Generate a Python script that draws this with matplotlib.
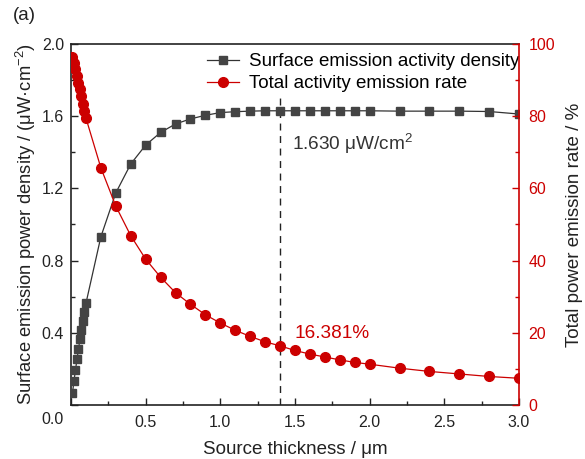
import matplotlib
matplotlib.use("Agg")
import matplotlib.pyplot as plt
from matplotlib.ticker import MultipleLocator

plt.rcParams['font.family'] = ['Liberation Sans', 'DejaVu Sans']
plt.rcParams['mathtext.fontset'] = 'custom'
plt.rcParams['mathtext.rm'] = 'Liberation Sans'
plt.rcParams['mathtext.it'] = 'Liberation Sans:italic'

# ---- data ----
thickness = [0.01, 0.02, 0.03, 0.04, 0.05, 0.06, 0.07, 0.08, 0.09, 0.10,
             0.2, 0.3, 0.4, 0.5, 0.6, 0.7, 0.8, 0.9, 1.0, 1.1, 1.2, 1.3, 1.4,
             1.5, 1.6, 1.7, 1.8, 1.9, 2.0, 2.2, 2.4, 2.6, 2.8, 3.0]
density = [0.068, 0.133, 0.194, 0.253, 0.310, 0.364, 0.415, 0.467, 0.515, 0.563,
           0.932, 1.175, 1.335, 1.440, 1.510, 1.557, 1.585, 1.605, 1.620, 1.625,
           1.628, 1.630, 1.630, 1.630, 1.630, 1.630, 1.630, 1.630, 1.630,
           1.628, 1.628, 1.628, 1.626, 1.612]
rate = [96.5, 94.8, 93.0, 91.2, 89.3, 87.4, 85.5, 83.5, 81.5, 79.5,
        65.7, 55.1, 46.9, 40.4, 35.4, 31.1, 27.9, 25.0, 22.7, 20.7,
        19.0, 17.5, 16.381, 15.1, 14.1, 13.3, 12.5, 11.8, 11.3,
        10.2, 9.3, 8.6, 7.9, 7.4]
mark_x = 1.4
mark_density_label = "1.630 μW/cm$^{2}$"
mark_rate_label = "16.381%"

black = '#333333'
mgray = '#444444'
red = '#CC0000'
txt = '#222222'

fig = plt.figure(figsize=(5.85, 4.59), dpi=100)
ax = fig.add_axes([71/585, 1-405/459, 448/585, 361/459])
ax2 = ax.twinx()

l1, = ax.plot(thickness, density, color=black, lw=0.9, marker='s', ms=5.8,
              mfc=mgray, mec=mgray, label='Surface emission activity density', zorder=3)
l2, = ax2.plot(thickness, rate, color=red, lw=0.9, marker='o', ms=7,
               mfc=red, mec=red, label='Total activity emission rate', zorder=3)

ax.plot([mark_x, mark_x], [0, 1.70], color='#222222', lw=1.0, ls=(0, (5, 4)), zorder=2)

ax.set_xlim(0, 3.0)
ax.set_ylim(0, 2.0)
ax2.set_ylim(0, 100)

ax.xaxis.set_minor_locator(MultipleLocator(0.25))
ax.yaxis.set_minor_locator(MultipleLocator(0.2))
ax2.yaxis.set_major_locator(MultipleLocator(20))
ax2.yaxis.set_minor_locator(MultipleLocator(10))

ax.set_xticks([0, 0.5, 1.0, 1.5, 2.0, 2.5, 3.0])
ax.set_xticklabels(['', '0.5', '1.0', '1.5', '2.0', '2.5', '3.0'])
ax.set_yticks([0, 0.4, 0.8, 1.2, 1.6, 2.0])
ax.set_yticklabels(['', '0.4', '0.8', '1.2', '1.6', '2.0'])

fs = 11.5
ax.tick_params(axis='both', which='major', direction='in', length=5, width=1, labelsize=fs, colors=txt)
ax.tick_params(axis='y', which='major', pad=5)
ax.tick_params(axis='x', which='major', pad=7)
ax.tick_params(axis='both', which='minor', direction='in', length=3, width=1, colors=txt)
ax.tick_params(axis='x', which='both', top=False)
ax2.tick_params(axis='y', which='major', direction='in', length=5, width=1, labelsize=fs, pad=7,
                colors=red)
ax2.tick_params(axis='y', which='minor', direction='in', length=3, width=1, colors=red)

for s in ['left', 'bottom', 'top']:
    ax.spines[s].set_color(txt)
    ax.spines[s].set_linewidth(1.2)
ax2.spines['right'].set_color(red)
ax2.spines['right'].set_linewidth(1.2)
for s in ['left', 'bottom', 'top']:
    ax2.spines[s].set_visible(False)
ax.spines['right'].set_visible(False)

lfs = 13.5
ax.set_xlabel('Source thickness / μm', fontsize=lfs, color=txt, labelpad=8)
ax.set_ylabel('Surface emission power density / (μW·cm$^{-2}$)', fontsize=13.2, color=txt, labelpad=3)
ax2.set_ylabel('Total power emission rate / %', fontsize=lfs, color=txt, labelpad=8)

fig.text(53/585, 1-420/459, '0.0', fontsize=fs, ha='center', va='center', color=txt)
fig.text(13/585, 1-16/459, '(a)', fontsize=lfs, ha='left', va='center', color=txt)

ax.text(1.483, 1.449, mark_density_label, fontsize=13.7, color='#333333', ha='left', va='center')
ax2.text(1.50, 19.8, mark_rate_label, fontsize=13.7, color=red, ha='left', va='center')

leg = ax.legend(handles=[l1, l2], loc='upper right', bbox_to_anchor=(1.01, 0.985),
                frameon=False, fontsize=lfs, handlelength=1.7, handletextpad=0.55,
                borderaxespad=0.0, borderpad=0.2, labelspacing=0.25)

fig.savefig('out.png', dpi=100)
